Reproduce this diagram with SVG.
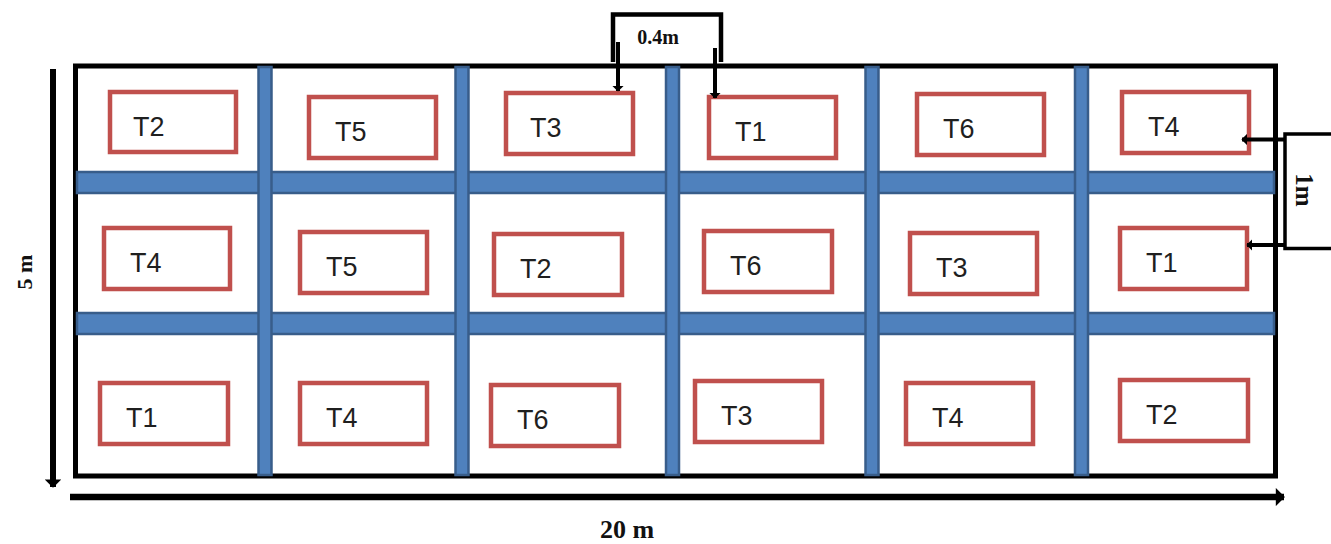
<svg xmlns="http://www.w3.org/2000/svg" width="1331" height="544" viewBox="0 0 1331 544">
  <style>
    .plot { fill: #ffffff; stroke: #C0504D; stroke-width: 4.5; }
    .lbl { font-family: "Liberation Sans", Arial, sans-serif; font-size: 27px; fill: #1F1F1F; }
    .dim { font-family: "Liberation Serif", "Times New Roman", serif; font-weight: bold; fill: #111111; }
    .hbar { fill: #4F81BD; stroke: #385D8A; stroke-width: 2.5; }
    .vbar { fill: #4F81BD; stroke: #385D8A; stroke-width: 2.5; }
    .blk { stroke: #000000; fill: none; }
  </style>
  <defs>
    <marker id="ah" viewBox="0 0 5 10" refX="4.5" refY="5" markerWidth="1.5" markerHeight="2.8" orient="auto" markerUnits="strokeWidth">
      <path d="M0,0 L5,5 L0,10 z" fill="#000000"/>
    </marker>
  </defs>
  <rect width="1331" height="544" fill="#ffffff"/>

  <!-- field boundary -->
  <rect x="75.5" y="66" width="1200" height="410" fill="#ffffff" stroke="#000000" stroke-width="5"/>

  <!-- paths between plots -->
  <g id="paths">
    <rect class="hbar" x="77" y="172" width="1197" height="21"/>
    <rect class="hbar" x="77" y="313" width="1197" height="21"/>
    <rect class="vbar" x="258.5" y="67" width="13" height="408"/>
    <rect class="vbar" x="455.5" y="67" width="13" height="408"/>
    <rect class="vbar" x="666" y="67" width="13" height="408"/>
    <rect class="vbar" x="865.5" y="67" width="13" height="408"/>
    <rect class="vbar" x="1075" y="67" width="13" height="408"/>
  </g>

  <!-- row 1 -->
  <g id="r1c1"><rect class="plot" x="110" y="92" width="126" height="60"/><text class="lbl" x="133" y="136">T2</text></g>
  <g id="r1c2"><rect class="plot" x="309" y="97" width="127" height="61"/><text class="lbl" x="335" y="141">T5</text></g>
  <g id="r1c3"><rect class="plot" x="506" y="93" width="127" height="61"/><text class="lbl" x="530" y="137">T3</text></g>
  <g id="r1c4"><rect class="plot" x="709" y="97" width="127" height="61"/><text class="lbl" x="735" y="141">T1</text></g>
  <g id="r1c5"><rect class="plot" x="917" y="94" width="127" height="61"/><text class="lbl" x="943" y="138">T6</text></g>
  <g id="r1c6"><rect class="plot" x="1122" y="92" width="127" height="61"/><text class="lbl" x="1148" y="136">T4</text></g>

  <!-- row 2 -->
  <g id="r2c1"><rect class="plot" x="104" y="228" width="126" height="61"/><text class="lbl" x="130" y="272">T4</text></g>
  <g id="r2c2"><rect class="plot" x="300" y="232" width="127" height="61"/><text class="lbl" x="326" y="276">T5</text></g>
  <g id="r2c3"><rect class="plot" x="494" y="234" width="128" height="61"/><text class="lbl" x="520" y="278">T2</text></g>
  <g id="r2c4"><rect class="plot" x="704" y="231" width="128" height="61"/><text class="lbl" x="730" y="275">T6</text></g>
  <g id="r2c5"><rect class="plot" x="910" y="233" width="127" height="61"/><text class="lbl" x="936" y="277">T3</text></g>
  <g id="r2c6"><rect class="plot" x="1120" y="228" width="127" height="61"/><text class="lbl" x="1146" y="272">T1</text></g>

  <!-- row 3 -->
  <g id="r3c1"><rect class="plot" x="100" y="383" width="128" height="61"/><text class="lbl" x="126" y="427">T1</text></g>
  <g id="r3c2"><rect class="plot" x="300" y="383" width="127" height="61"/><text class="lbl" x="326" y="427">T4</text></g>
  <g id="r3c3"><rect class="plot" x="491" y="385" width="128" height="61"/><text class="lbl" x="517" y="429">T6</text></g>
  <g id="r3c4"><rect class="plot" x="695" y="381" width="127" height="61"/><text class="lbl" x="721" y="425">T3</text></g>
  <g id="r3c5"><rect class="plot" x="906" y="383" width="127" height="61"/><text class="lbl" x="932" y="427">T4</text></g>
  <g id="r3c6"><rect class="plot" x="1120" y="380" width="128" height="61"/><text class="lbl" x="1146" y="424">T2</text></g>

  <!-- dimension annotations -->
  <g id="connectors">
    <!-- 5 m -->
    <line class="blk" x1="53" y1="69" x2="53" y2="487" stroke-width="6" marker-end="url(#ah)"/>
    <!-- 20 m -->
    <line class="blk" x1="70" y1="497" x2="1284" y2="497" stroke-width="6.5" marker-end="url(#ah)"/>
    <!-- 0.4 m bracket -->
    <path class="blk" d="M613,62 L613,14.5 L721,14.5 L721,62" stroke-width="4.5"/>
    <line class="blk" x1="618" y1="42" x2="618" y2="91" stroke-width="4" marker-end="url(#ah)"/>
    <line class="blk" x1="715" y1="48" x2="715" y2="98" stroke-width="4" marker-end="url(#ah)"/>
    <!-- 1 m bracket -->
    <path class="blk" d="M1335,134 L1285,134 L1285,248.5 L1335,248.5" stroke-width="3.5"/>
    <line class="blk" x1="1285" y1="139.5" x2="1242" y2="139.5" stroke-width="4" marker-end="url(#ah)"/>
    <line class="blk" x1="1285" y1="245" x2="1247" y2="245" stroke-width="4" marker-end="url(#ah)"/>
  </g>

  <g id="labels">
    <text class="dim" x="658" y="44" font-size="20" text-anchor="middle">0.4m</text>
    <text class="dim" x="627" y="538" font-size="26" text-anchor="middle">20 m</text>
    <text class="dim" transform="translate(32,272) rotate(-90)" font-size="22" text-anchor="middle">5 m</text>
    <text class="dim" transform="translate(1296,190) rotate(90)" font-size="25" text-anchor="middle">1m</text>
  </g>
</svg>
